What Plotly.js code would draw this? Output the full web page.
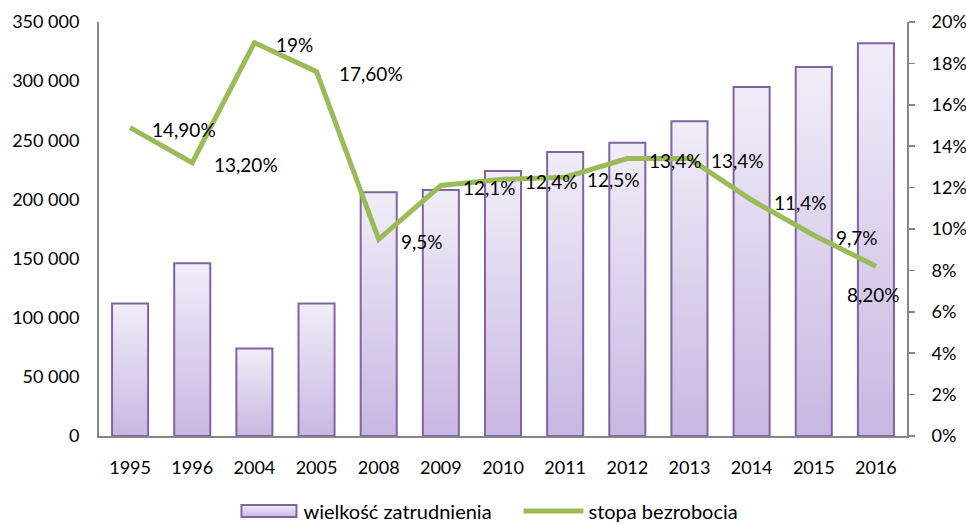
<!DOCTYPE html>
<html>
<head>
<meta charset="utf-8">
<script src="https://cdn.plot.ly/plotly-3.0.1.min.js"></script>
<style>
html,body{margin:0;padding:0;background:#fff;}
#chart{width:966px;height:524px;}
</style>
</head>
<body>
<div id="chart"></div>
<script>
// Data
var years = ['1995','1996','2004','2005','2008','2009','2010','2011','2012','2013','2014','2015','2016'];
var employment = [112000,146000,74000,112000,206000,208000,224000,240000,248000,266000,295000,312000,332000];
var unemploymentRate = [14.9,13.2,19,17.6,9.5,12.1,12.4,12.5,13.4,13.4,11.4,9.7,8.2];
var rateLabels = ['14,90%','13,20%','19%','17,60%','9,5%','12,1%','12,4%','12,5%','13,4%','13,4%','11,4%','9,7%','8,20%'];
var seriesNames = ['wielkość zatrudnienia','stopa bezrobocia'];

var FONT = 'Lato, "Open Sans", sans-serif';

var traces = [
  {
    type:'bar', x:years, y:employment, name:seriesNames[0],
    marker:{color:'#DCD2EE', line:{color:'#8064A2', width:2}},
    hoverinfo:'skip'
  },
  {
    type:'scatter', mode:'lines', x:years, y:unemploymentRate, yaxis:'y2',
    name:seriesNames[1],
    line:{color:'#9BBB59', width:5},
    hoverinfo:'skip'
  }
];

var annotations = years.map(function(yr,i){
  var last = (i === years.length-1);
  return {
    xref:'x', yref:'y2', x:i, y:unemploymentRate[i], text:rateLabels[i],
    showarrow:false,
    xanchor: last ? 'center' : 'left',
    yanchor: last ? 'top' : 'middle',
    xshift: last ? -2 : 20,
    yshift: last ? -15 : -2,
    font:{family:FONT, size:19, color:'#000'}
  };
});

var axisLine = '#868686';
var layout = {
  width:966, height:524,
  margin:{l:99, r:59, t:22, b:88},
  paper_bgcolor:'#fff', plot_bgcolor:'#fff',
  separators:', ',
  font:{family:FONT, size:18, color:'#000'},
  bargap:0.42,
  showlegend:true,
  legend:{orientation:'h', xref:'container', yref:'container', x:0.2417, xanchor:'left',
          y:0.025, yanchor:'middle',
          font:{family:FONT, size:20, color:'#000'}, itemwidth:60, traceorder:'normal',
          entrywidth:210},
  xaxis:{type:'category', range:[-0.5, years.length-0.5], autorange:false,
         showgrid:false, showline:true, linecolor:axisLine, linewidth:2,
         ticks:'', ticklabelstandoff:14, tickfont:{family:FONT, size:18}},
  yaxis:{range:[0,350000], dtick:50000, tickformat:',', showgrid:false, zeroline:false,
         showline:true, linecolor:axisLine, linewidth:2, ticks:'', ticklabelstandoff:14,
         tickfont:{family:FONT, size:18}},
  yaxis2:{range:[0,20], dtick:2, ticksuffix:'%', overlaying:'y', side:'right',
          showgrid:false, zeroline:false, showline:true, linecolor:axisLine, linewidth:2,
          ticks:'outside', ticklen:6, tickcolor:axisLine, tickwidth:1.5, ticklabelstandoff:13,
          tickfont:{family:FONT, size:18}},
  annotations:annotations
};

Plotly.newPlot('chart', traces, layout, {staticPlot:true, displayModeBar:false}).then(function(gd){
  var svg = gd.querySelector('.main-svg');
  var ns = 'http://www.w3.org/2000/svg';
  var defs = svg.querySelector('defs');
  if(!defs){ defs = document.createElementNS(ns,'defs'); svg.insertBefore(defs, svg.firstChild); }
  var grad = document.createElementNS(ns,'linearGradient');
  grad.setAttribute('id','barGrad');
  grad.setAttribute('x1','0'); grad.setAttribute('y1','0');
  grad.setAttribute('x2','0'); grad.setAttribute('y2','1');
  [['0%','#F1EDF8'],['100%','#C8B7E2']].forEach(function(s){
    var st = document.createElementNS(ns,'stop');
    st.setAttribute('offset',s[0]); st.setAttribute('stop-color',s[1]);
    grad.appendChild(st);
  });
  defs.appendChild(grad);
  gd.querySelectorAll('.barlayer .point path').forEach(function(p){ p.style.fill='url(#barGrad)'; });
  // widen the legend swatch of the bar series
  gd.querySelectorAll('.legend .legendpoints .legendbar path, .legend .legendpoints path.legendundefined').forEach(function(p){
    p.setAttribute('d','M-27,-6H28V6H-27Z');
    p.style.fill='url(#barGrad)';
    p.style.stroke='#8064A2';
    p.style.strokeWidth='2px';
  });
});
</script>
</body>
</html>
